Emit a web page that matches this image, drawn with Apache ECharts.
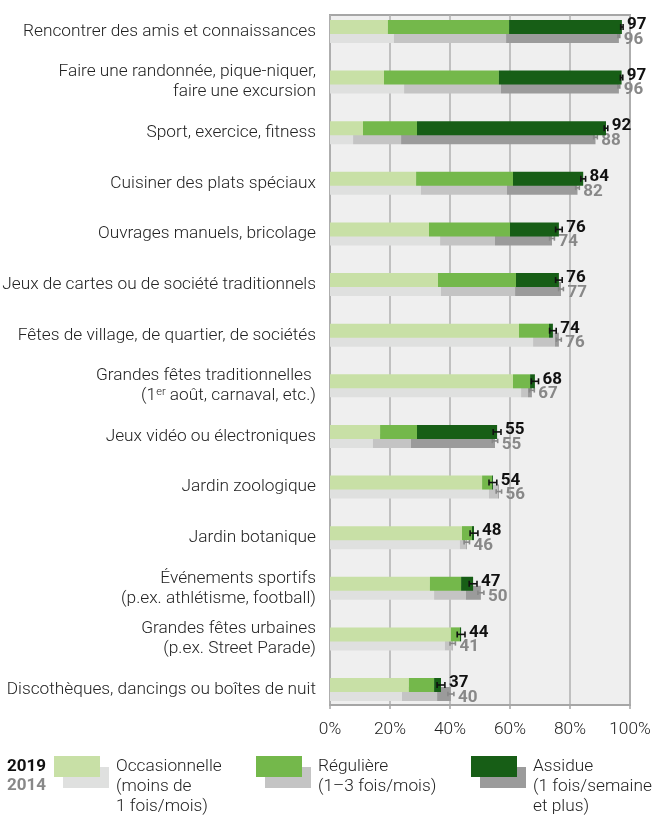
<!DOCTYPE html>
<html>
<head>
<meta charset="utf-8">
<script src="https://cdn.jsdelivr.net/npm/echarts@6/dist/echarts.min.js"></script>
<style>
  html, body { margin: 0; padding: 0; background: #fff; }
  #chart { width: 653px; height: 818px; }
</style>
</head>
<body>
<div id="chart"></div>
<script>
// catégories (de haut en bas)
const categories = [
  'Rencontrer des amis et connaissances',
  'Faire une randonnée, pique-niquer,\nfaire une excursion',
  'Sport, exercice, fitness',
  'Cuisiner des plats spéciaux',
  'Ouvrages manuels, bricolage',
  'Jeux de cartes ou de société traditionnels',
  'Fêtes de village, de quartier, de sociétés',
  'Grandes fêtes traditionnelles \n(1er août, carnaval, etc.)',
  'Jeux vidéo ou électroniques',
  'Jardin zoologique',
  'Jardin botanique',
  'Événements sportifs\n(p.ex. athlétisme, football)',
  'Grandes fêtes urbaines\n(p.ex. Street Parade)',
  'Discothèques, dancings ou boîtes de nuit'
]

// 2019 : occasionnelle / régulière / assidue (%)
const occ2019 = [19.3, 18.0, 11.0, 28.7, 33.0, 36.0, 63.0, 61.0, 16.7, 50.7, 44.0, 33.3, 40.3, 26.3]
const reg2019 = [40.4, 38.3, 18.0, 32.3, 27.0, 26.0, 10.0, 5.7, 12.3, 3.3, 3.3, 10.4, 3.0, 8.4]
const ass2019 = [37.6, 40.9, 63.0, 23.4, 16.3, 14.3, 1.3, 1.6, 26.7, 0.3, 0.7, 4.0, 0.4, 2.3]
const total2019 = [97, 97, 92, 84, 76, 76, 74, 68, 55, 54, 48, 47, 44, 37]
const err2019 = [0.4, 0.4, 0.6, 0.8, 1.1, 1.1, 1.1, 1.2, 1.3, 1.3, 1.3, 1.3, 1.3, 1.3]

// 2014
const occ2014 = [21.3, 24.7, 7.7, 30.3, 36.7, 37.0, 67.7, 63.7, 14.3, 53.0, 43.3, 34.7, 38.3, 24.0]
const reg2014 = [37.4, 32.3, 16.0, 28.7, 18.3, 24.7, 7.3, 2.3, 12.7, 3.0, 2.0, 10.6, 2.4, 11.7]
const ass2014 = [37.6, 39.3, 64.8, 23.5, 19.0, 15.3, 1.3, 1.3, 28.0, 0.3, 0.3, 5.0, 0.2, 4.6]
const total2014 = [96, 96, 88, 82, 74, 77, 76, 67, 55, 56, 46, 50, 41, 40]
const err2014 = [0.3, 0.3, 0.6, 0.6, 0.8, 0.8, 0.8, 0.8, 0.9, 0.9, 0.9, 1.0, 0.9, 1.0]

const xTicks = [0, 20, 40, 60, 80, 100]

const colors2019 = ['#c8e0a6', '#74b84b', '#175e16']
const colors2014 = ['#dfe0df', '#c4c4c4', '#9b9b9b']
const font = 'Roboto, "Noto Sans", sans-serif'
const textColor = '#222'
const fs = 17.3

const ends = (a, b, c) => a.map((v, i) => v + b[i] + c[i])
const end2019 = ends(occ2019, reg2019, ass2019)
const end2014 = ends(occ2014, reg2014, ass2014)

const barSeries = (name, data, stack, color, z) => ({
  name,
  type: 'bar',
  stack,
  xAxisIndex: 1,
  yAxisIndex: 1,
  barWidth: 14,
  barGap: '-35.7%',
  z,
  itemStyle: { color },
  emphasis: { disabled: true },
  data
})

// barres d'erreur + étiquettes
const errorSeries = (ends, errs, totals, dy, labelDy, color, labelColor, capH, z) => ({
  type: 'custom',
  xAxisIndex: 1,
  yAxisIndex: 1,
  z,
  silent: true,
  data: ends.map((v, i) => [v, i, errs[i]]),
  encode: { x: 0, y: 1 },
  renderItem: (params, api) => {
    const end = api.value(0)
    const idx = api.value(1)
    const err = api.value(2)
    const lo = api.coord([end - err, idx])
    const hi = api.coord([end + err, idx])
    const y = lo[1] + dy
    const st = { stroke: color, lineWidth: 1.6 }
    return {
      type: 'group',
      children: [
        { type: 'line', shape: { x1: lo[0], y1: y, x2: hi[0], y2: y }, style: st },
        { type: 'line', shape: { x1: lo[0], y1: y - capH / 2, x2: lo[0], y2: y + capH / 2 }, style: st },
        { type: 'line', shape: { x1: hi[0], y1: y - capH / 2, x2: hi[0], y2: y + capH / 2 }, style: st },
        {
          type: 'text',
          x: hi[0] + 4,
          y: lo[1] + labelDy,
          style: {
            text: String(totals[params.dataIndex]),
            fill: labelColor,
            font: 'bold 17px ' + font,
            textAlign: 'left',
            textVerticalAlign: 'middle'
          }
        }
      ]
    }
  }
})

// légende
const legendItems = [
  { x: 54, lines: ['Occasionnelle', '(moins de', '1 fois/mois)'], c19: colors2019[0], c14: colors2014[0] },
  { x: 256, lines: ['Régulière', '(1–3 fois/mois)'], c19: colors2019[1], c14: colors2014[1] },
  { x: 471, lines: ['Assidue', '(1 fois/semaine', 'et plus)'], c19: colors2019[2], c14: colors2014[2] }
]
const legendGraphics = [
  { type: 'text', left: 7, top: 758, style: { text: '2019', font: 'bold 17px ' + font, fill: '#111' } },
  { type: 'text', left: 7, top: 777, style: { text: '2014', font: 'bold 17px ' + font, fill: '#888' } }
]
legendItems.forEach((it) => {
  legendGraphics.push({ type: 'rect', left: it.x + 9, top: 767, shape: { width: 46, height: 21 }, style: { fill: it.c14 } })
  legendGraphics.push({ type: 'rect', left: it.x, top: 756, shape: { width: 46, height: 21 }, style: { fill: it.c19 } })
  legendGraphics.push({
    type: 'text',
    left: it.x + 62,
    top: 757,
    style: { text: it.lines.join('\n'), font: '300 ' + fs + 'px ' + font, fill: textColor, lineHeight: 20 }
  })
})

const chart = echarts.init(document.getElementById('chart'))

const option = {
  animation: false,
  backgroundColor: '#fff',
  textStyle: { fontFamily: font },
  grid: [
    // cadre
    {
      left: 330, width: 300, top: 15, height: 690, outerBoundsMode: 'none',
      show: true, backgroundColor: '#efefef', borderColor: '#a6a6a6', borderWidth: 2
    },
    // données
    { left: 330, width: 300, top: 6.2, height: 708.6, outerBoundsMode: 'none' }
  ],
  xAxis: [
    {
      gridIndex: 0,
      type: 'value',
      min: xTicks[0],
      max: xTicks[xTicks.length - 1],
      interval: 20,
      axisLine: { show: true, lineStyle: { color: '#a6a6a6', width: 2 } },
      axisTick: { show: true, length: 4, lineStyle: { color: '#a6a6a6', width: 1.5 } },
      splitLine: { show: true, lineStyle: { color: '#b0b0b0', width: 1.5 } },
      axisLabel: { formatter: '{value}%', color: textColor, fontSize: fs, fontWeight: 300, margin: 16 }
    },
    { gridIndex: 1, type: 'value', min: 0, max: 100, show: false }
  ],
  yAxis: [
    { gridIndex: 0, type: 'value', show: false },
    {
      gridIndex: 1,
      type: 'category',
      inverse: true,
      data: categories,
      axisLine: { show: false },
      axisTick: { show: false },
      splitLine: { show: false },
      axisLabel: {
        margin: 14,
        align: 'right',
        color: textColor,
        fontSize: fs,
        fontWeight: 300,
        lineHeight: 20,
        formatter: (v) => v.replace('1er', '1{sup|er}'),
        rich: {
          sup: { fontSize: 11, fontWeight: 300, color: textColor, lineHeight: 20, padding: [0, 0, 8, 0] }
        }
      }
    }
  ],
  graphic: legendGraphics,
  series: [
    // identifiants de pile non numériques : l'ordre de déclaration fixe la position (2019 en haut)
    barSeries('Occasionnelle 2019', occ2019, 'y2019', colors2019[0], 4),
    barSeries('Régulière 2019', reg2019, 'y2019', colors2019[1], 4),
    barSeries('Assidue 2019', ass2019, 'y2019', colors2019[2], 4),
    barSeries('Occasionnelle 2014', occ2014, 'y2014', colors2014[0], 2),
    barSeries('Régulière 2014', reg2014, 'y2014', colors2014[1], 2),
    barSeries('Assidue 2014', ass2014, 'y2014', colors2014[2], 2),
    errorSeries(end2014, err2014, total2014, 4.5, 8, '#888', '#888', 4.5, 3),
    errorSeries(end2019, err2019, total2019, -4.5, -6.5, '#111', '#111', 6, 6)
  ]
}

chart.setOption(option)
window.addEventListener('resize', () => chart.resize())
</script>
</body>
</html>
